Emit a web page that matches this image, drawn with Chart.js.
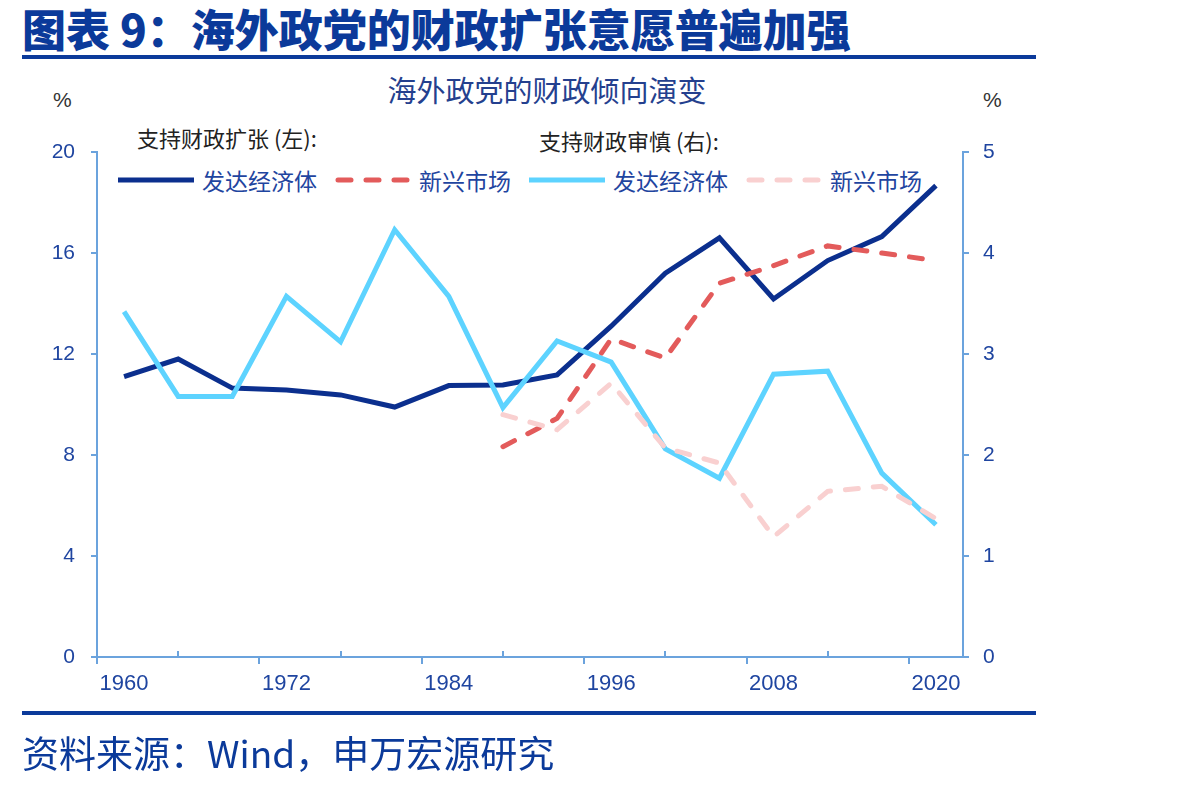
<!DOCTYPE html>
<html>
<head>
<meta charset="utf-8">
<script src="https://cdn.jsdelivr.net/npm/chart.js@4.4.1/dist/chart.umd.min.js"></script>
<style>
html,body{margin:0;padding:0;background:#fff;}
body{width:1190px;height:787px;overflow:hidden;position:relative;font-family:"Noto Sans CJK SC","Liberation Sans",sans-serif;}
.abs{position:absolute;white-space:nowrap;}
#hdr{left:22px;top:-1px;font-size:44px;font-weight:900;color:#0B3A9A;line-height:58px;}
.rule{position:absolute;left:22px;width:1014px;height:4px;background:#0B3A9A;}
#title{left:0;width:1094px;text-align:center;top:70px;font-size:29px;color:#24408E;line-height:38px;}
.pct{top:86px;font-size:21px;color:#333;line-height:28px;font-family:"Liberation Sans",sans-serif;}
.head{font-size:22px;color:#222;line-height:30px;}
#legend{left:118px;top:164px;display:flex;align-items:center;gap:18px;}
.item{display:flex;align-items:center;}
.item svg{display:block;margin-right:8px;}
.item span{font-size:23px;color:#1F45A0;line-height:32px;}
#src{left:22px;top:727px;font-size:37px;color:#0B3A9A;line-height:50px;}
canvas{position:absolute;left:0;top:0;}
</style>
</head>
<body>
<div id="hdr" class="abs">图表 9：海外政党的财政扩张意愿普遍加强</div>
<div class="rule" style="top:55px"></div>
<div id="title" class="abs">海外政党的财政倾向演变</div>
<div class="abs pct" style="left:53px">%</div>
<div class="abs pct" style="left:983px">%</div>
<div class="abs head" style="left:137px;top:122px">支持财政扩张 (左):</div>
<div class="abs head" style="left:539px;top:125px">支持财政审慎 (右):</div>
<div id="legend" class="abs"></div>
<canvas id="c" width="1190" height="787"></canvas>
<div class="rule" style="top:711px"></div>
<div id="src" class="abs">资料来源：Wind，申万宏源研究</div>
<script>
// ---- data ----
const years = [1960,1964,1968,1972,1976,1980,1984,1988,1992,1996,2000,2004,2008,2012,2016,2020];
const devExpansion = [11.1,11.8,10.65,10.57,10.38,9.9,10.75,10.77,11.17,13.1,15.2,16.6,14.18,15.7,16.65,18.67];
const emExpansion  = [null,null,null,null,null,null,null,8.33,9.45,12.6,11.84,14.8,15.5,16.28,16.0,15.7];
const devPrudence  = [3.42,2.58,2.58,3.57,3.12,4.23,3.57,2.47,3.13,2.92,2.06,1.77,2.80,2.83,1.82,1.31];
const emPrudence   = [null,null,null,null,null,null,null,2.40,2.25,2.71,2.07,1.92,1.19,1.64,1.69,1.37];
const seriesNames = ['发达经济体','新兴市场','发达经济体','新兴市场'];
const xTickLabels = [1960,1972,1984,1996,2008,2020];
const xMajorTicks = [1958,1970,1982,1994,2006,2018];
const xMinorTicks = [1964,1976,1988,2000,2012];
const leftTicks = [0,4,8,12,16,20];
const rightTicks = [0,1,2,3,4,5];

// ---- styles ----
const axisColor = '#6BA3DD';
const tickColor = '#1F45A0';
const styles = [
  {color:'#0B2F8E', dash:[], axis:'yL', order:4},
  {color:'#E35B5B', dash:[13,15], axis:'yL', order:3},
  {color:'#5DD3FF', dash:[], axis:'yR', order:2},
  {color:'#F9D0D0', dash:[13,15], axis:'yR', order:1}
];
const values = [devExpansion, emExpansion, devPrudence, emPrudence];

const datasets = values.map((arr,i)=>({
  label: seriesNames[i],
  data: years.map((y,j)=>({x:y, y:arr[j]})),
  borderColor: styles[i].color,
  backgroundColor: styles[i].color,
  borderWidth: 5,
  borderDash: styles[i].dash,
  borderCapStyle: styles[i].dash.length ? 'round' : 'butt',
  borderJoinStyle: 'miter',
  pointRadius: 0,
  tension: 0,
  yAxisID: styles[i].axis,
  order: styles[i].order,
  spanGaps: false
}));

// HTML legend
const lg = document.getElementById('legend');
datasets.forEach(ds=>{
  const it = document.createElement('div'); it.className='item';
  const dash = ds.borderDash.length ? `stroke-dasharray="${ds.borderDash.join(' ')}" stroke-linecap="round"` : '';
  it.innerHTML = `<svg width="76" height="10"><line x1="${ds.borderDash.length?3:0}" y1="5" x2="${ds.borderDash.length?73:76}" y2="5" stroke="${ds.borderColor}" stroke-width="5" ${dash}/></svg><span>${ds.label}</span>`;
  lg.appendChild(it);
});

const xTickPlugin = {
  id:'xTickMarks',
  afterDraw(chart){
    const s = chart.scales.x, ctx = chart.ctx, y = chart.chartArea.bottom;
    ctx.save(); ctx.strokeStyle = axisColor; ctx.lineWidth = 2;
    xMajorTicks.forEach(v=>{const px=Math.round(s.getPixelForValue(v)); ctx.beginPath(); ctx.moveTo(px,y); ctx.lineTo(px,y+7); ctx.stroke();});
    xMinorTicks.forEach(v=>{const px=Math.round(s.getPixelForValue(v)); ctx.beginPath(); ctx.moveTo(px,y); ctx.lineTo(px,y-6); ctx.stroke();});
    ctx.restore();
  }
};

const tickFont = {family:'"Liberation Sans", Arial, sans-serif', size:21};

new Chart(document.getElementById('c'), {
  type:'line',
  data:{datasets},
  options:{
    responsive:false, animation:false, devicePixelRatio:1,
    layout:{padding:{left:0,right:152,top:152,bottom:80}},
    plugins:{legend:{display:false}, tooltip:{enabled:false}, title:{display:false}},
    scales:{
      x:{type:'linear', min:1958, max:2022,
        afterBuildTicks:s=>{s.ticks = xTickLabels.map(v=>({value:v}));},
        ticks:{callback:v=>String(v), font:{...tickFont,size:22}, color:tickColor, padding:14, maxRotation:0, autoSkip:false},
        grid:{display:false, drawTicks:false},
        border:{color:axisColor, width:2},
        afterFit:s=>{s.height=50;}
      },
      yL:{position:'left', min:0, max:20,
        afterBuildTicks:s=>{s.ticks = leftTicks.map(v=>({value:v}));},
        ticks:{font:tickFont, color:tickColor, padding:16},
        grid:{drawOnChartArea:false, drawTicks:true, tickLength:6, color:axisColor, lineWidth:2},
        border:{color:axisColor, width:2},
        afterFit:s=>{s.width=97;}
      },
      yR:{position:'right', min:0, max:5,
        afterBuildTicks:s=>{s.ticks = rightTicks.map(v=>({value:v}));},
        ticks:{font:tickFont, color:tickColor, padding:14},
        grid:{drawOnChartArea:false, drawTicks:true, tickLength:6, color:axisColor, lineWidth:2},
        border:{color:axisColor, width:2},
        afterFit:s=>{s.width=75;}
      }
    }
  },
  plugins:[xTickPlugin]
});
</script>
</body>
</html>
